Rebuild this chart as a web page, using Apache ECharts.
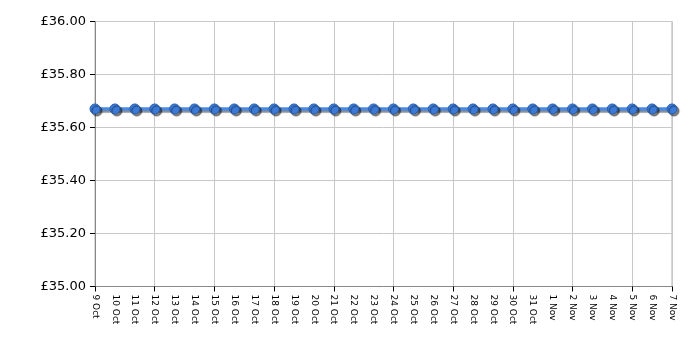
<!DOCTYPE html>
<html>
<head>
<meta charset="utf-8">
<script src="https://cdn.jsdelivr.net/npm/echarts@6/dist/echarts.min.js"></script>
<style>html,body{margin:0;padding:0;background:#fff}#c{width:700px;height:350px}</style>
</head>
<body>
<div id="c"></div>
<script>
var categories = ["9 Oct","10 Oct","11 Oct","12 Oct","13 Oct","14 Oct","15 Oct","16 Oct","17 Oct","18 Oct","19 Oct","20 Oct","21 Oct","22 Oct","23 Oct","24 Oct","25 Oct","26 Oct","27 Oct","28 Oct","29 Oct","30 Oct","31 Oct","1 Nov","2 Nov","3 Nov","4 Nov","5 Nov","6 Nov","7 Nov"];
var prices = [35.67,35.67,35.67,35.67,35.67,35.67,35.67,35.67,35.67,35.67,35.67,35.67,35.67,35.67,35.67,35.67,35.67,35.67,35.67,35.67,35.67,35.67,35.67,35.67,35.67,35.67,35.67,35.67,35.67,35.67];
var yMin = 35, yMax = 36, yStep = 0.2;

var chart = echarts.init(document.getElementById('c'));
chart.setOption({
  animation: false,
  grid: { left: 95, right: 28, top: 21.5, bottom: 63.5, show: true, borderColor: '#b0b0b0', borderWidth: 1 },
  xAxis: {
    type: 'category',
    data: categories,
    boundaryGap: false,
    axisLine: { lineStyle: { color: '#888', width: 1 } },
    axisTick: { show: true, interval: 2, length: 5, lineStyle: { color: '#000' } },
    splitLine: { show: true, interval: 2, lineStyle: { color: '#c8c8c8', width: 1 } },
    axisLabel: { interval: 0, rotate: -90, fontSize: 9, fontFamily: 'DejaVu Sans', color: '#000', margin: 8 }
  },
  yAxis: {
    type: 'value',
    min: yMin, max: yMax, interval: yStep,
    axisLine: { show: true, lineStyle: { color: '#888', width: 1 } },
    axisTick: { show: true, length: 5, lineStyle: { color: '#000' } },
    splitLine: { show: true, lineStyle: { color: '#c8c8c8', width: 1 } },
    axisLabel: { fontSize: 13, fontFamily: 'DejaVu Sans', color: '#000', margin: 9,
      formatter: function (v) { return '£' + v.toFixed(2); } }
  },
  series: [{
    type: 'line',
    data: prices,
    symbol: 'circle',
    symbolSize: 10,
    lineStyle: { color: '#4a8ae4', width: 3.5, shadowColor: 'rgba(0,0,0,0.45)', shadowBlur: 1, shadowOffsetX: 1, shadowOffsetY: 2 },
    itemStyle: {
      color: '#3b7ad6',
      borderColor: '#2a60b0', borderWidth: 1,
      shadowColor: 'rgba(0,0,0,0.5)', shadowBlur: 1, shadowOffsetX: 2, shadowOffsetY: 2
    }
  }]
});
</script>
</body>
</html>
